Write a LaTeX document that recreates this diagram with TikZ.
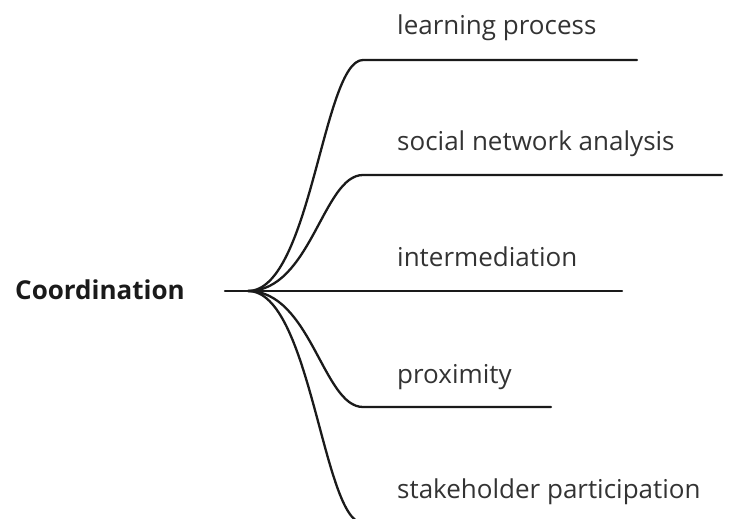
\documentclass[tikz,border=0pt]{standalone}
\usepackage{fontspec}
\setmainfont{Open Sans}
\definecolor{linec}{HTML}{1A1A1A}
\definecolor{txtc}{HTML}{333333}
\begin{document}
\begin{tikzpicture}[x=1pt,y=-1pt,
  lbl/.style={anchor=base west,inner sep=0pt,text=txtc,font=\fontsize{26}{30}\selectfont},
  rootlbl/.style={anchor=base west,inner sep=0pt,text=linec,font=\fontsize{26}{30}\selectfont\bfseries},
  branch/.style={draw=linec,line width=2.3pt,line cap=round}]
\useasboundingbox (0,0) rectangle (742,519);
\clip (0,0) rectangle (742,519);
\node[rootlbl] (root) at (15,299) {Coordination};
\coordinate (r0) at (225,291);
\coordinate (hub) at (248,291);
\coordinate (s1) at (363,60);  \coordinate (e1) at (637,60);
\coordinate (s2) at (363,175); \coordinate (e2) at (722,175);
\coordinate (e3) at (622,291);
\coordinate (s4) at (363,407); \coordinate (e4) at (551,407);
\coordinate (s5) at (363,523); \coordinate (e5) at (700,523);
\node[lbl] (l1) at (397,35) {learning process};
\node[lbl] (l2) at (397,150) {social network analysis};
\node[lbl] (l3) at (397,266) {intermediation};
\node[lbl] (l4) at (397,383) {proximity};
\node[lbl] (l5) at (397,498) {stakeholder participation};
\draw[branch] (r0) -- (e3);
\draw[branch] (hub) .. controls +(63,0) and +(-40,0) .. (s1) -- (e1);
\draw[branch] (hub) .. controls +(63,0) and +(-40,0) .. (s2) -- (e2);
\draw[branch] (hub) .. controls +(63,0) and +(-40,0) .. (s4) -- (e4);
\draw[branch] (hub) .. controls +(63,0) and +(-40,0) .. (s5) -- (e5);
\end{tikzpicture}
\end{document}
